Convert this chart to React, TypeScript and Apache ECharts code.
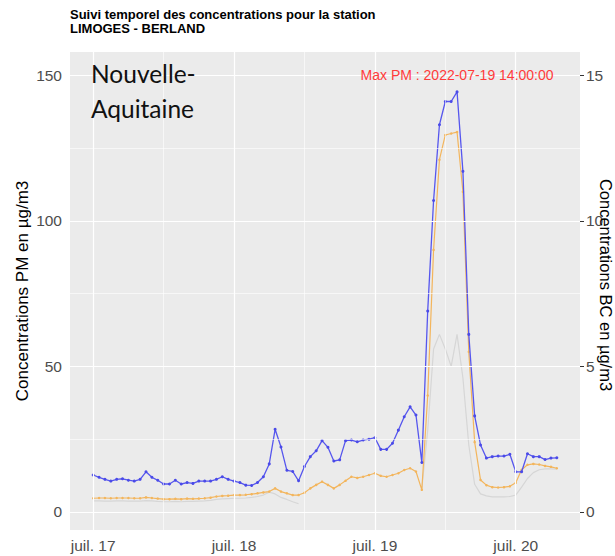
import React, { useEffect, useRef } from "react";
import * as echarts from "echarts";

// hourly values starting 2022-07-17 00:00 (index = hours since start)
const pmBlue: (number | null)[] = [
  12.7, 11.9, 11.2, 10.6, 11.2, 11.4, 10.9, 10.6, 11.2, 13.8,
  11.9, 10.9, 9.6, 9.6, 10.9, 9.6, 10.1, 9.8, 10.6, 10.6,
  10.6, 11.2, 12.1, 11.2, 10.6, 10.1, 9.2, 9.1, 10.1, 12.1,
  16.5, 28.4, 22.3, 14.3, 13.9, 10.7, 15.6, 19.0, 21.0, 24.5,
  22.2, 17.5, 17.9, 24.5, 24.7, 24.1, 24.7, 25.0, 25.5, 21.5,
  21.5, 23.6, 28.1, 32.7, 36.1, 33.3, 17.0, 69.0, 107.0, 133.0,
  141.0, 141.0, 144.3, 117.0, 61.0, 33.0, 23.0, 18.5, 19.0, 19.2,
  19.2, 19.8, 13.8, 13.8, 20.0, 19.0, 19.0, 18.0, 18.5, 18.6,
];

const pmOrange: (number | null)[] = [
  4.7, 4.8, 4.8, 4.7, 4.8, 4.8, 4.8, 4.7, 4.7, 5.0,
  4.8, 4.6, 4.4, 4.4, 4.5, 4.4, 4.6, 4.5, 4.6, 4.7,
  4.9, 5.3, 5.5, 5.6, 5.8, 5.8, 5.9, 6.1, 6.4, 6.7,
  7.0, 8.1, 7.0, 6.4, 5.8, 5.8, 6.6, 8.1, 9.3, 10.4,
  9.3, 8.1, 9.3, 10.7, 12.1, 11.7, 12.1, 12.7, 13.3, 12.4,
  12.1, 12.7, 13.3, 14.4, 15.0, 13.9, 7.6, 40.0, 90.0, 121.0,
  129.5, 130.0, 130.5, 110.0, 55.0, 24.0, 11.0, 9.2, 8.5, 8.4,
  8.5, 8.8, 10.0, 14.5, 16.2, 16.5, 16.3, 15.8, 15.5, 15.0,
];

// BC in µg/m3 (right axis)
const bcGrey: (number | null)[] = [
  0.38, 0.38, 0.37, 0.37, 0.38, 0.38, 0.37, 0.37, 0.37, 0.39,
  0.38, 0.36, 0.35, 0.35, 0.36, 0.35, 0.36, 0.36, 0.37, 0.38,
  0.40, 0.43, 0.45, 0.46, 0.47, 0.47, 0.48, 0.50, 0.53, 0.58,
  0.68, 0.62, 0.50, 0.43, 0.35, 0.28, null, null, null, null,
  null, null, null, null, null, null, null, null, null, null,
  null, null, null, null, null, null, 0.8, 2.8, 5.6, 6.1,
  5.6, 5.0, 6.1, 4.6, 2.3, 0.95, 0.62, 0.55, 0.52, 0.52,
  0.52, 0.53, 0.58, 0.85, 1.15, 1.35, 1.45, 1.48, 1.48, 1.47,
];

const dayTicks = [0, 24, 48, 72];
const dayLabels = ["juil. 17", "juil. 18", "juil. 19", "juil. 20"];
const dayMinorTicks = [12, 36, 60];
const pmTicks = [0, 50, 100, 150];
const pmMinorTicks = [25, 75, 125];
const bcTicks = [0, 5, 10, 15];

const titleText = "Suivi temporel des concentrations pour la station\nLIMOGES - BERLAND";
const regionText = "Nouvelle-\nAquitaine";
const leftAxisTitle = "Concentrations PM en µg/m3";
const rightAxisTitle = "Concentrations BC en µg/m3";
const maxLabel = "Max PM : 2022-07-19 14:00:00";
const maxLabelLevel = 150;

const FONT = "Liberation Sans, Arial, sans-serif";

export default function App() {
  const ref = useRef<HTMLDivElement>(null);
  useEffect(() => {
    if (!ref.current) return;
    const chart = echarts.init(ref.current, undefined, { renderer: "svg" });
    const toPairs = (arr: (number | null)[]) => arr.map((v, i) => [i, v]);
    let maxIdx = 0;
    pmBlue.forEach((v, i) => {
      if (v != null && v > (pmBlue[maxIdx] as number)) maxIdx = i;
    });
    const grid = (w: number) => ({ lineStyle: { width: w } });
    const gridLines = [
      ...pmTicks.map((v) => ({ yAxis: v, ...grid(1.2) })),
      ...pmMinorTicks.map((v) => ({ yAxis: v, ...grid(0.6) })),
      ...dayTicks.map((v) => ({ xAxis: v, ...grid(1.2) })),
      ...dayMinorTicks.map((v) => ({ xAxis: v, ...grid(0.6) })),
    ];
    const tickStyle = { show: true, inside: false, length: 4, lineStyle: { color: "#333333", width: 1 } };
    chart.setOption({
      animation: false,
      textStyle: { fontFamily: FONT },
      title: {
        text: titleText,
        left: 70,
        top: 7,
        padding: 0,
        textStyle: { fontFamily: FONT, fontSize: 13, fontWeight: "bold", color: "#000", lineHeight: 14 },
      },
      grid: {
        left: 70,
        right: 35,
        top: 52,
        bottom: 26,
        show: true,
        backgroundColor: "#EBEBEB",
        borderWidth: 0,
        containLabel: false,
      },
      graphic: [
        {
          type: "text",
          left: 91,
          top: 56,
          style: {
            text: regionText,
            font: "24.5px Lato, 'Open Sans', sans-serif",
            fill: "#111",
            lineHeight: 35,
          },
          z: 10,
        },
        {
          type: "text",
          x: 605.5,
          y: 285,
          rotation: -Math.PI / 2,
          style: {
            text: rightAxisTitle,
            font: `16.5px ${FONT}`,
            fill: "#000",
            align: "center",
            verticalAlign: "middle",
          },
          z: 10,
        },
      ],
      xAxis: {
        type: "value",
        min: -3.95,
        max: 82.95,
        axisLine: { show: false },
        splitLine: { show: false },
        axisTick: { ...tickStyle, customValues: dayTicks },
        axisLabel: {
          customValues: dayTicks,
          formatter: (v: number) => {
            const i = dayTicks.indexOf(v);
            return i >= 0 ? dayLabels[i] : "";
          },
          color: "#4D4D4D",
          fontSize: 15.5,
          margin: 7,
          fontFamily: FONT,
        },
      },
      yAxis: [
        {
          type: "value",
          min: -6.2,
          max: 158,
          position: "left",
          name: leftAxisTitle,
          nameLocation: "middle",
          nameRotate: 90,
          nameGap: 39,
          nameMoveOverlap: false,
          nameTextStyle: { fontSize: 17, color: "#000", fontFamily: FONT },
          axisLine: { show: false },
          splitLine: { show: false },
          axisTick: { ...tickStyle, customValues: pmTicks },
          axisLabel: { customValues: pmTicks, color: "#4D4D4D", fontSize: 15.5, margin: 8, fontFamily: FONT },
        },
        {
          type: "value",
          min: -0.62,
          max: 15.8,
          position: "right",
          axisLine: { show: false },
          splitLine: { show: false },
          axisTick: { ...tickStyle, customValues: bcTicks },
          axisLabel: { customValues: bcTicks, color: "#4D4D4D", fontSize: 15.5, margin: 6, fontFamily: FONT },
        },
      ],
      series: [
        {
          type: "line",
          name: "grid",
          data: [],
          z: 1,
          silent: true,
          markLine: {
            silent: true,
            symbol: ["none", "none"],
            label: { show: false },
            lineStyle: { color: "#FFFFFF", type: "solid" },
            emphasis: { disabled: true },
            animation: false,
            data: gridLines,
          },
        },
        {
          type: "line",
          name: "BC",
          yAxisIndex: 1,
          data: toPairs(bcGrey),
          showSymbol: false,
          connectNulls: false,
          lineStyle: { color: "#D6D6D6", width: 1.2 },
          itemStyle: { color: "#D6D6D6" },
          z: 2,
          silent: true,
        },
        {
          type: "line",
          name: "PM2.5",
          data: toPairs(pmOrange),
          showSymbol: true,
          symbol: "circle",
          symbolSize: 2.5,
          lineStyle: { color: "#F3B55C", width: 1.2 },
          itemStyle: { color: "#F3B55C" },
          z: 3,
          silent: true,
        },
        {
          type: "line",
          name: "PM10",
          data: toPairs(pmBlue),
          showSymbol: true,
          symbol: "circle",
          symbolSize: 3,
          lineStyle: { color: "#5656EE", width: 1.3 },
          itemStyle: { color: "#4A4AE8" },
          z: 4,
          silent: true,
          markPoint: {
            silent: true,
            symbol: "circle",
            symbolSize: 1,
            itemStyle: { color: "rgba(0,0,0,0)" },
            label: {
              show: true,
              position: "inside",
              formatter: maxLabel,
              color: "#FF3B3B",
              fontSize: 14,
              fontFamily: FONT,
            },
            data: [{ coord: [maxIdx, maxLabelLevel] }],
          },
        },
      ],
    });
    return () => chart.dispose();
  }, []);
  return (
    <div
      ref={ref}
      style={{ position: "fixed", left: 0, top: 0, width: 615, height: 556, background: "#fff" }}
    />
  );
}
